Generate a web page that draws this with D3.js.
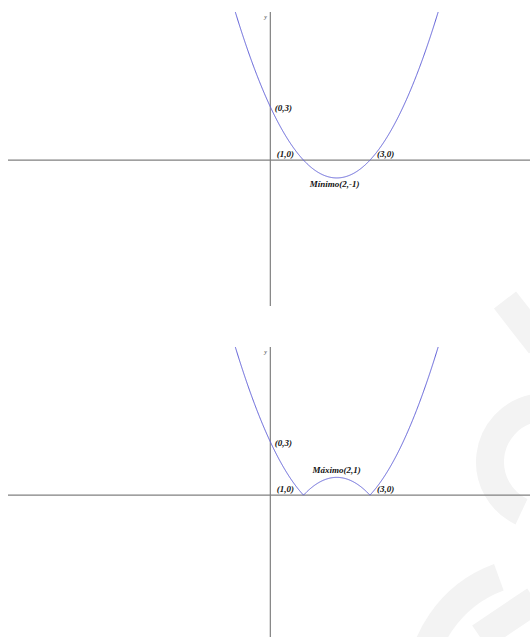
<!DOCTYPE html>
<html>
<head>
<meta charset="utf-8">
<script src="https://cdn.jsdelivr.net/npm/d3@7"></script>
<style>
  html, body { margin: 0; padding: 0; background: #fff; }
  svg { display: block; }
  .lbl { font-family: "Liberation Serif", "Times New Roman", serif; font-weight: bold; font-style: italic; font-size: 9px; fill: #111; }
  .ylbl { font-family: "Liberation Serif", serif; font-style: italic; font-size: 6px; fill: #333; }
</style>
</head>
<body>
<script>
// ---- Data ----
const coefficients = [1, -4, 3];           // y = x^2 - 4x + 3
const plotTypes = ["plain", "absolute"];   // top: f(x), bottom: |f(x)|
const xSampleRange = [-1.5, 5.5];
const topPoints = [
  {x: 0, y: 3, text: "(0,3)", pos: "right"},
  {x: 1, y: 0, text: "(1,0)", pos: "leftUp"},
  {x: 3, y: 0, text: "(3,0)", pos: "rightUp"},
  {x: 2, y: -1, text: "Mínimo(2,-1)", pos: "below"}
];
const bottomPoints = [
  {x: 0, y: 3, text: "(0,3)", pos: "right"},
  {x: 1, y: 0, text: "(1,0)", pos: "leftUp"},
  {x: 3, y: 0, text: "(3,0)", pos: "rightUp"},
  {x: 2, y: 1, text: "Máximo(2,1)", pos: "above"}
];
const xDomain = [-7.9, 7.82];
const yDomain = [-8.2, 8.33];

// ---- Layout ----
const W = 530, H = 637;
const svg = d3.select("body").append("svg").attr("width", W).attr("height", H);

// faint watermark
const wm = svg.append("g").attr("fill", "none").attr("stroke", "#f3f3f3").attr("stroke-width", 28);
wm.append("path").attr("d", "M505,300 L540,345");
wm.append("path").attr("d", d3.arc()({innerRadius: 55, outerRadius: 55, startAngle: -0.2, endAngle: -2.7}))
  .attr("transform", "translate(545,462)");
wm.append("path").attr("d", d3.arc()({innerRadius: 120, outerRadius: 120, startAngle: -0.35, endAngle: -1.6}))
  .attr("transform", "translate(540,690)");
wm.append("path").attr("d", "M535,600 L480,637");

const f = x => coefficients[0]*x*x + coefficients[1]*x + coefficients[2];
const samples = d3.range(xSampleRange[0], xSampleRange[1] + 1e-9, 0.01);

function drawPlot(offsetY, type, points, idx) {
  const x = d3.scaleLinear().domain(xDomain).range([8, 530]);
  const y = d3.scaleLinear().domain(yDomain).range([306 + offsetY, 12 + offsetY]);
  const g = svg.append("g");

  const clipId = "clip" + idx;
  g.append("clipPath").attr("id", clipId).append("rect")
    .attr("x", 0).attr("y", y(yDomain[1])).attr("width", W).attr("height", y(yDomain[0]) - y(yDomain[1]));

  // axes
  g.append("line").attr("x1", x(xDomain[0])).attr("x2", x(xDomain[1]))
    .attr("y1", y(0)).attr("y2", y(0)).attr("stroke", "#808080").attr("stroke-width", 1.2);
  g.append("line").attr("x1", x(0)).attr("x2", x(0))
    .attr("y1", y(yDomain[1])).attr("y2", y(yDomain[0])).attr("stroke", "#808080").attr("stroke-width", 1.2);
  g.append("text").attr("class", "ylbl").attr("x", x(0) - 6).attr("y", y(yDomain[1]) + 7).text("y");

  const data = samples.map(v => ({x: v, y: type === "absolute" ? Math.abs(f(v)) : f(v)}));
  g.append("path").datum(data)
    .attr("clip-path", "url(#" + clipId + ")")
    .attr("fill", "none").attr("stroke", "#5f5fd8").attr("stroke-width", 1)
    .attr("d", d3.line().x(d => x(d.x)).y(d => y(d.y)));

  points.forEach(p => {
    const px = x(p.x), py = y(p.y);
    const t = g.append("text").attr("class", "lbl").text(p.text);
    if (p.pos === "right") t.attr("x", px + 4.5).attr("y", py + 4);
    else if (p.pos === "leftUp") t.attr("x", px - 9.5).attr("y", py - 3).attr("text-anchor", "end");
    else if (p.pos === "rightUp") t.attr("x", px + 7).attr("y", py - 3);
    else if (p.pos === "below") t.attr("x", px - 2).attr("y", py + 9).attr("text-anchor", "middle");
    else if (p.pos === "above") t.attr("x", px).attr("y", py - 4.5).attr("text-anchor", "middle");
  });
}

drawPlot(0, plotTypes[0], topPoints, 0);
drawPlot(335, plotTypes[1], bottomPoints, 1);
</script>
</body>
</html>
